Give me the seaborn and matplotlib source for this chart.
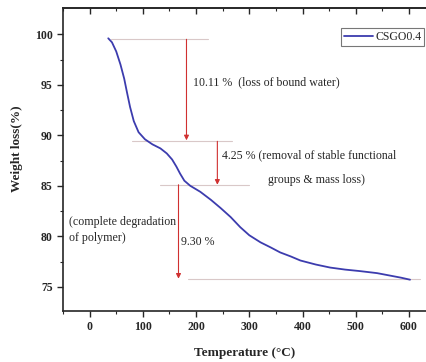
import matplotlib
matplotlib.use("Agg")
import matplotlib.pyplot as plt
import seaborn as sns
import pandas as pd

sns.set_theme(style="ticks")
plt.rcParams['font.family'] = ['Liberation Serif', 'DejaVu Serif']

temperature = [35, 42, 50, 58, 65, 70, 76, 83, 92, 104, 118, 133, 145, 155, 163, 170,
               178, 189, 208, 228, 246, 265, 283, 300, 321, 340, 358, 378, 396, 425,
               452, 480, 508, 540, 565, 585, 602]
weight = [99.6, 99.2, 98.3, 97.0, 95.6, 94.3, 92.8, 91.4, 90.3, 89.6, 89.1, 88.7, 88.2,
          87.6, 86.9, 86.2, 85.5, 85.0, 84.4, 83.6, 82.8, 81.9, 80.9, 80.1, 79.4, 78.9,
          78.4, 78.0, 77.6, 77.2, 76.9, 76.7, 76.55, 76.35, 76.1, 75.9, 75.7]
series_name = "CSGO0.4"

steps = ["10.11 %", "4.25 %", "9.30 %"]
step_top = [99.5, 89.4, 85.1]
step_bottom = [89.5, 85.1, 75.8]
step_T = [182, 240, 167]

df = pd.DataFrame({"T": temperature, "W": weight, "s": series_name})

fig = plt.figure(figsize=(4.27, 3.62), dpi=100)
ax = fig.add_axes([63/427, 1 - 311/362, (426-63)/427, (311-8)/362])

sns.lineplot(data=df, x="T", y="W", hue="s", palette=["#3c3cae"], ax=ax, linewidth=1.3)

guide = dict(color="#d9c8c8", lw=0.8, zorder=1)
ax.plot([40, 222], [step_top[0]]*2, **guide)
ax.plot([80, 268], [step_top[1]]*2, **guide)
ax.plot([133, 300], [step_top[2]]*2, **guide)
ax.plot([184, 620], [step_bottom[2]]*2, **guide)

for T, top, bot in zip(step_T, step_top, step_bottom):
    ax.annotate("", xy=(T, bot), xytext=(T, top),
                arrowprops=dict(arrowstyle="-|>", color="#d03030", lw=0.8,
                                mutation_scale=7, shrinkA=0, shrinkB=0))

tfs = 8.6
ax.text(195, 95.2, steps[0] + "  (loss of bound water)", fontsize=tfs, va="center", ha="left")
ax.text(248, 88.0, steps[1] + " (removal of stable functional", fontsize=tfs, va="center", ha="left")
ax.text(336, 85.6, "groups & mass loss)", fontsize=tfs, va="center", ha="left")
ax.text(-39, 80.6, "(complete degradation\nof polymer)", fontsize=tfs, va="center", ha="left",
        linespacing=1.5)
ax.text(171, 79.4, steps[2], fontsize=tfs, va="center", ha="left")

ax.set_xlim(-50, 632)
ax.set_ylim(72.6, 102.6)
xmaj = [0, 100, 200, 300, 400, 500, 600]
xmin = [-50, 50, 150, 250, 350, 450, 550]
ax.set_xticks(xmaj)
ax.set_yticks([75, 80, 85, 90, 95, 100])
ax.set_xticks(xmin, minor=True)
ax.set_yticks([77.5, 82.5, 87.5, 92.5, 97.5], minor=True)
ax.tick_params(axis="both", which="major", labelsize=8.5, length=4, width=1, direction="out")
ax.tick_params(axis="both", which="minor", length=2, width=0.8, direction="out")
for lab in ax.get_xticklabels() + ax.get_yticklabels():
    lab.set_fontweight("bold")
for sp in ax.spines.values():
    sp.set_linewidth(1.2)
ax.spines["right"].set_visible(False)

top = ax.secondary_xaxis("top")
top.set_xticks(xmaj)
top.set_xticks(xmin, minor=True)
top.tick_params(which="major", direction="in", length=4, width=1, labeltop=False)
top.tick_params(which="minor", direction="in", length=2, width=0.8)
top.spines["top"].set_linewidth(1.2)

ax.set_xlabel("Temperature (°C)", fontsize=9.5, fontweight="bold")
ax.xaxis.set_label_coords(0.5, -0.12)
ax.set_ylabel("Weight loss(%)", fontsize=9.5, fontweight="bold")
ax.yaxis.set_label_coords(-0.11, 0.535)

leg = ax.legend(loc="upper right", bbox_to_anchor=(0.995, 0.935), fontsize=8.5, frameon=True,
                fancybox=False, edgecolor="#555555", handlelength=2.4, borderpad=0.25,
                handletextpad=0.2, borderaxespad=0)
leg.get_frame().set_linewidth(0.8)

fig.savefig("out.png", dpi=100)
